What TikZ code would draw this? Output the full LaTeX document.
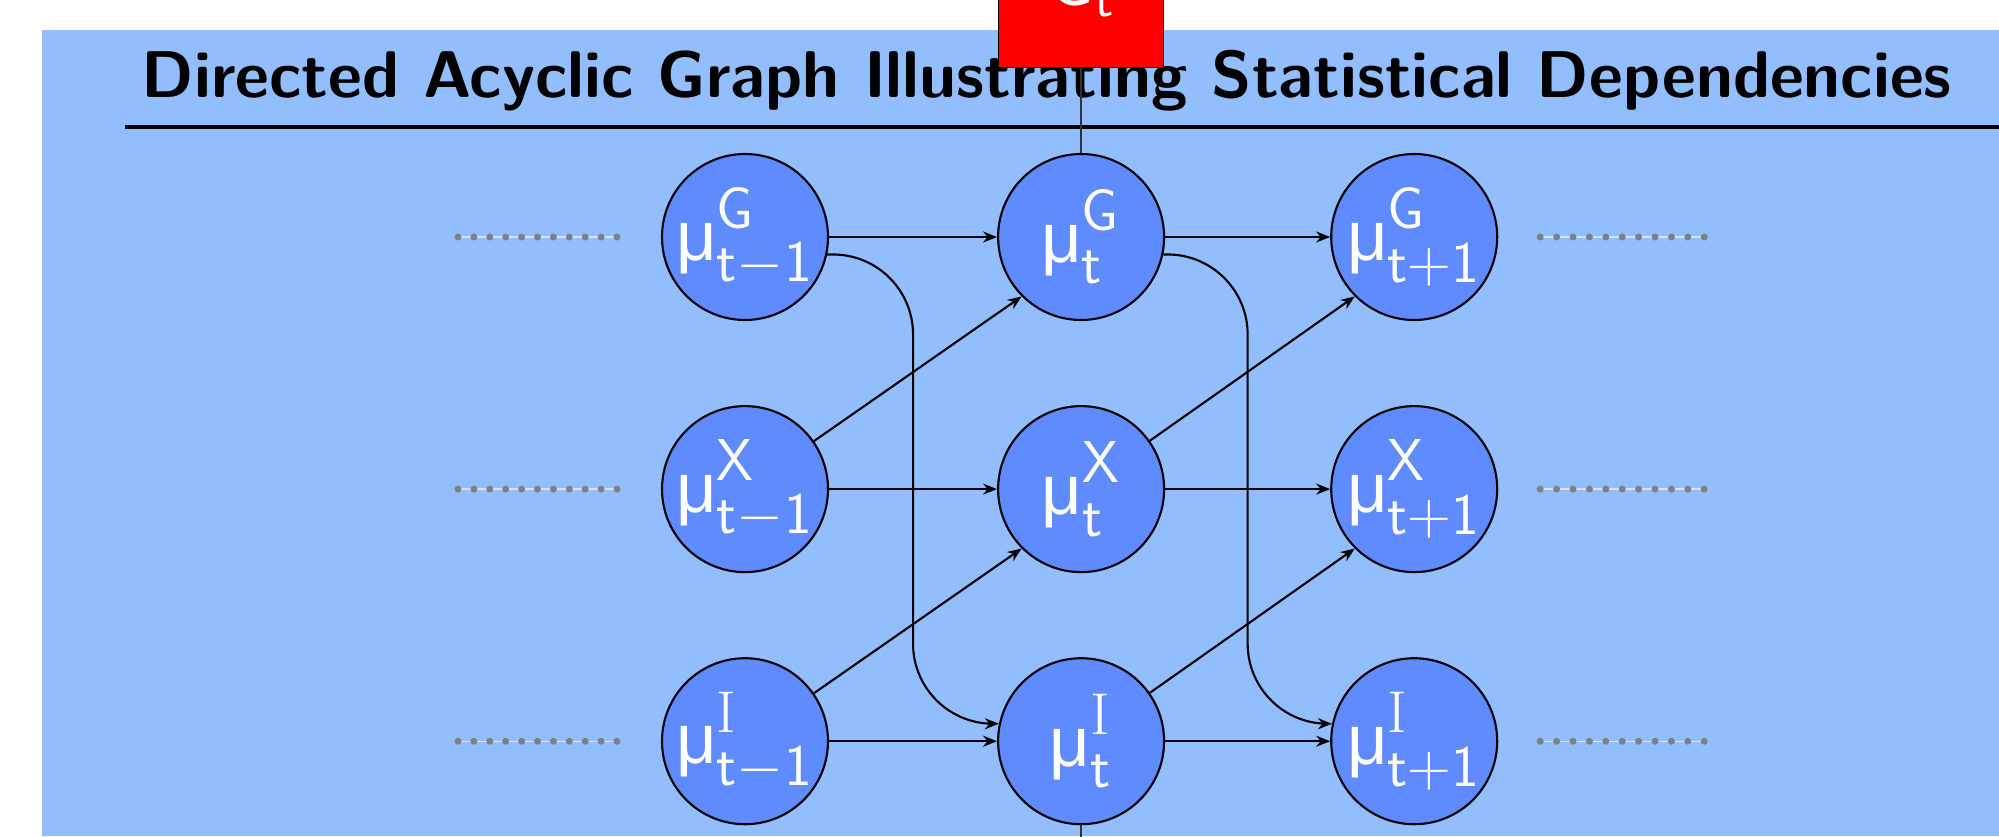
\documentclass[tikz,border=0pt]{standalone}
\usepackage{fontspec}
\newfontfamily\greekfont{Liberation Sans}
\usetikzlibrary{arrows.meta,positioning,calc}
\definecolor{slidebg}{RGB}{146,190,253}
\definecolor{nodeblue}{RGB}{95,139,255}
\newcommand{\mustate}[2]{\makebox[0pt]{$\mbox{\fontsize{20}{22}\selectfont\greekfont μ}^{#1}_{\mathsf{#2}}$}}

\begin{document}
\begin{tikzpicture}[
  state/.style={circle, draw=black, semithick, fill=nodeblue, text=white, minimum size=1.66cm, inner sep=0pt, font=\fontsize{24}{26}\selectfont},
  obs/.style={rectangle, draw=black, fill=red, text=white, minimum size=1.65cm, inner sep=0pt, font=\fontsize{22}{24}\selectfont},
  link/.style={->, >={Stealth[length=1.4mm, width=1.1mm]}, semithick},
  tie/.style={semithick, black!80},
  node distance=0.84cm and 1.68cm
]
  \useasboundingbox (0,0) rectangle (19.99,8.36);
  % Slide background
  \fill[slidebg] (0.42,0) rectangle (19.99,8.06);
  % Title
  \node[anchor=base west, inner sep=0pt, font=\sffamily\bfseries\fontsize{18.8}{22}\selectfont] (title) at (1.41,7.39) {Directed Acyclic Graph Illustrating Statistical Dependencies};
  \draw[line width=0.9pt] (1.25,7.09) -- (19.99,7.09);
  % States, one row per variable
  \node[state] (g1) at (7.45,5.99) {\mustate{\mathsf{G}}{t-1}};
  \node[state, right=of g1] (g2) {\mustate{\mathsf{G}}{t}};
  \node[state, right=1.65cm of g2] (g3) {\mustate{\mathsf{G}}{t+1}};
  \node[state, below=of g1] (x1) {\mustate{\mathsf{X}}{t-1}};
  \node[state, right=of x1] (x2) {\mustate{\mathsf{X}}{t}};
  \node[state, right=1.65cm of x2] (x3) {\mustate{\mathsf{X}}{t+1}};
  \node[state, below=of x1] (i1) {\mustate{\mathrm{I}}{t-1}};
  \node[state, right=of i1] (i2) {\mustate{\mathrm{I}}{t}};
  \node[state, right=1.65cm of i2] (i3) {\mustate{\mathrm{I}}{t+1}};
  % Observed box and lower link
  \node[obs, above=0.85cm of g2] (obs) {$\mathsf{G}_{\mathsf{t}}$};
  \coordinate[below=0.6cm of i2] (below);
  % Dotted continuations
  \foreach \r in {g,x,i} {
    \draw[white, thin, opacity=0.6] ([xshift=-2.87cm]\r1.center) -- ([xshift=-1.28cm]\r1.center);
    \draw[white, thin, opacity=0.6] ([xshift=1.26cm]\r3.center) -- ([xshift=2.90cm]\r3.center);
    \foreach \k in {0,...,10} {
      \fill[gray] ([xshift=-2.87cm+\k*0.159cm]\r1.center) circle (0.035);
      \fill[gray] ([xshift=1.26cm+\k*0.164cm]\r3.center) circle (0.035);
    }
  }
  % Arrows in time
  \foreach \r in {g,x,i} {
    \draw[link] (\r1) -- (\r2);
    \draw[link] (\r2) -- (\r3);
  }
  \draw[link] (x1) -- (g2.south west);
  \draw[link] (i1) -- (x2.south west);
  \draw[link] (x2) -- (g3.south west);
  \draw[link] (i2) -- (x3.south west);
  \draw[link, rounded corners=0.8cm] (g1.-12) -| ($(g1.east)!0.5!(i2.west)$) |- (i2.168);
  \draw[link, rounded corners=0.8cm] (g2.-12) -| ($(g2.east)!0.5!(i3.west)$) |- (i3.168);
  \draw[tie] (obs) -- (g2);
  \draw[tie] (i2) -- (below);
\end{tikzpicture}
\end{document}
